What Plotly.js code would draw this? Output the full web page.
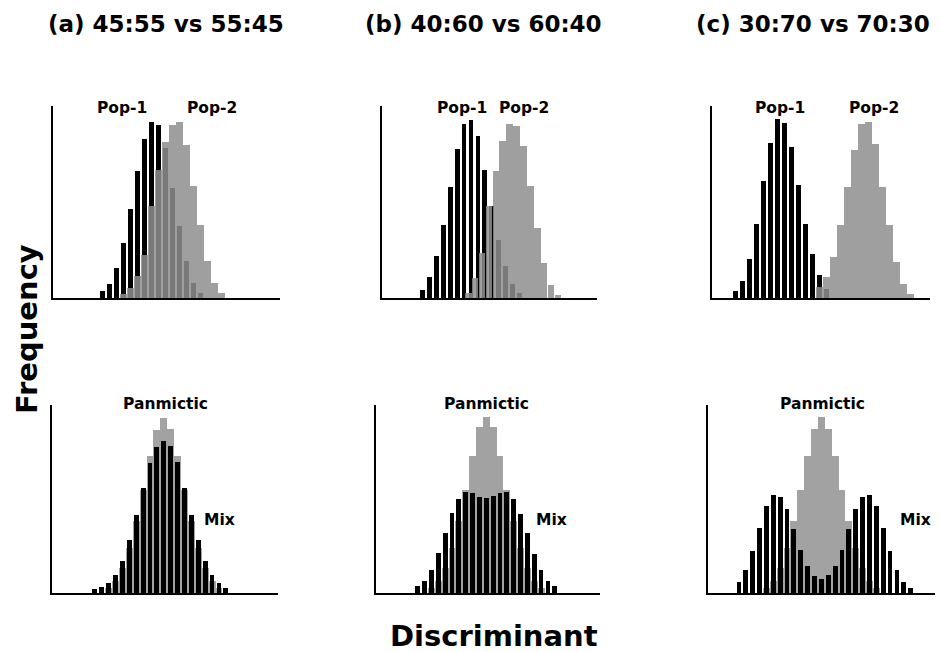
<!DOCTYPE html>
<html>
<head>
<meta charset="utf-8">
<script src="https://cdn.plot.ly/plotly-3.0.1.min.js"></script>
<style>html,body{margin:0;padding:0;background:#fff;}#chart{width:940px;height:652px;}</style>
</head>
<body>
<div id="chart"></div>
<script>
// ---- Data (frequencies, arbitrary units; x = discriminant bin) ----
const panelTitles = ["(a) 45:55 vs 55:45", "(b) 40:60 vs 60:40", "(c) 30:70 vs 70:30"];

// Top row: the two source populations
const aPop1Start = 7.1;
const aPop1 = [7, 14, 30, 55, 89, 127, 159, 176, 173, 150, 110, 72, 37, 15, 5];
const aPop2Start = 10.1;
const aPop2 = [4, 10, 22, 43, 92, 128, 156, 173, 176, 153, 112, 73, 37, 15, 5];

const bPop1Start = 5.9;
const bPop1 = [8, 21, 42, 73, 111, 149, 174, 178, 162, 128, 92, 58, 32, 14, 5];
const bPop2Start = 12.5;
const bPop2 = [5, 20, 45, 92, 127, 157, 174, 172, 152, 112, 70, 35, 13, 3];

const cPop1Start = 3.4;
const cPop1 = [7, 17, 39, 74, 117, 155, 179, 175, 151, 113, 74, 44, 23, 9];
const cPop2Start = 15.4;
const cPop2 = [11, 21, 41, 73, 111, 148, 174, 176, 154, 111, 73, 36, 14, 4];

// Bottom row: panmictic (gray) vs mixed sample (black)
const aMixStart = 6.2;
const aMix = [4, 6, 10, 18, 32, 53, 78, 105, 130, 146, 152, 147, 131, 105, 78, 53, 32, 18, 10, 5];
const aPanStart = 8.2;
const aPan = [5, 12, 25, 45, 72, 103, 137, 163, 175, 164, 137, 103, 72, 45, 25, 12, 5];

const bMixStart = 6.1;
const bMix = [7, 12, 23, 40, 60, 80, 94, 101, 100, 96, 95, 97, 100, 101, 94, 79, 60, 39, 23, 12, 7];
const bPanStart = 8.1;
const bPan = [5, 12, 25, 45, 72, 103, 137, 166, 176, 166, 137, 103, 72, 45, 25, 12, 5];

const cMixStart = 4.5;
const cMix = [11, 23, 42, 65, 87, 98, 96, 84, 64, 43, 27, 17, 14, 18, 27, 43, 64, 84, 96, 98, 87, 65, 42, 23, 11, 5];
const cPanStart = 8.5;
const cPan = [5, 12, 25, 45, 72, 103, 137, 164, 176, 164, 137, 103, 72, 45, 25, 12, 5];

// ---- Layout helpers ----
const W = 940, H = 652;
const px = x => x / W;
const py = y => 1 - y / H;
const bins = (start, arr) => arr.map((_, i) => start + i);

const FONT = "DejaVu Sans";
const BLACK = "#000000";
const GRAY_TOP = "#8f8f8f";
const GRAY_BOT = "#a2a2a2";

function pop1(start, vals, ax) {
  return {type: "bar", x: bins(start, vals), y: vals, width: 0.68,
    marker: {color: BLACK, line: {width: 0}}, xaxis: "x" + ax, yaxis: "y" + ax,
    showlegend: false, hoverinfo: "skip"};
}
function pop2(start, vals, ax) {
  return {type: "bar", x: bins(start, vals), y: vals, width: 0.96, opacity: 0.85,
    marker: {color: GRAY_TOP, line: {width: 0}}, xaxis: "x" + ax, yaxis: "y" + ax,
    showlegend: false, hoverinfo: "skip"};
}
function pan(start, vals, ax) {
  return {type: "bar", x: bins(start, vals), y: vals, width: 1.0,
    marker: {color: GRAY_BOT, line: {width: 0}}, xaxis: "x" + ax, yaxis: "y" + ax,
    showlegend: false, hoverinfo: "skip"};
}
function mix(start, vals, ax) {
  return {type: "bar", x: bins(start, vals), y: vals, width: 0.7,
    marker: {color: BLACK, line: {width: 0}}, xaxis: "x" + ax, yaxis: "y" + ax,
    showlegend: false, hoverinfo: "skip"};
}

const data = [
  pop1(aPop1Start, aPop1, ""), pop2(aPop2Start, aPop2, ""),
  pop1(bPop1Start, bPop1, "2"), pop2(bPop2Start, bPop2, "2"),
  pop1(cPop1Start, cPop1, "3"), pop2(cPop2Start, cPop2, "3"),
  pan(aPanStart, aPan, "4"), mix(aMixStart, aMix, "4"),
  pan(bPanStart, bPan, "5"), mix(bMixStart, bMix, "5"),
  pan(cPanStart, cPan, "6"), mix(cMixStart, cMix, "6")
];

// panel pixel boxes: [left, right, top, bottom, bin-width px]
const boxes = [
  [53, 280, 106, 298, 7.0],
  [382, 597, 106, 298, 6.9],
  [712, 930, 106, 298, 7.0],
  [52, 278, 405, 593, 6.9],
  [376, 600, 405, 593, 6.85],
  [708, 935, 405, 593, 6.87]
];

const layout = {
  width: W, height: H,
  margin: {l: 0, r: 0, t: 0, b: 0},
  paper_bgcolor: "#ffffff", plot_bgcolor: "#ffffff",
  barmode: "overlay", bargap: 0,
  font: {family: FONT, color: "#000"},
  annotations: []
};

boxes.forEach((b, i) => {
  const sx = i === 0 ? "" : String(i + 1);
  const xa = {
    domain: [px(b[0]), px(b[1])], range: [0, (b[1] - b[0]) / b[4]],
    showline: true, linecolor: "#000", linewidth: 2, showgrid: false, zeroline: false,
    showticklabels: false, ticks: "", anchor: "y" + sx, fixedrange: true
  };
  const ya = {
    domain: [py(b[3]), py(b[2])], range: [0, b[3] - b[2]],
    showline: true, linecolor: "#000", linewidth: 2, showgrid: false, zeroline: false,
    showticklabels: false, ticks: "", anchor: "x" + sx, fixedrange: true
  };
  layout["xaxis" + sx] = xa;
  layout["yaxis" + sx] = ya;
});

function txt(text, x, y, size, extra) {
  return Object.assign({
    text: text, xref: "paper", yref: "paper", x: px(x), y: py(y),
    xanchor: "center", yanchor: "middle", showarrow: false,
    font: {family: FONT, size: size, color: "#000", weight: "bold"}
  }, extra || {});
}

const titleX = [166, 484, 813];
panelTitles.forEach((t, i) => layout.annotations.push(txt(t, titleX[i], 24, 23)));

// population labels
[[122, 212], [462, 524], [780, 874]].forEach(p => {
  layout.annotations.push(txt("Pop-1", p[0], 108, 15.5));
  layout.annotations.push(txt("Pop-2", p[1], 108, 15.5));
});
[165, 486, 822].forEach(x => layout.annotations.push(txt("Panmictic", x, 404, 15.5)));
[219, 551, 915].forEach(x => layout.annotations.push(txt("Mix", x, 520, 15.5)));

layout.annotations.push(txt("Frequency", 27, 329, 29, {textangle: -90}));
layout.annotations.push(txt("Discriminant", 494, 636, 29));

Plotly.newPlot("chart", data, layout, {staticPlot: true, displayModeBar: false});
</script>
</body>
</html>
